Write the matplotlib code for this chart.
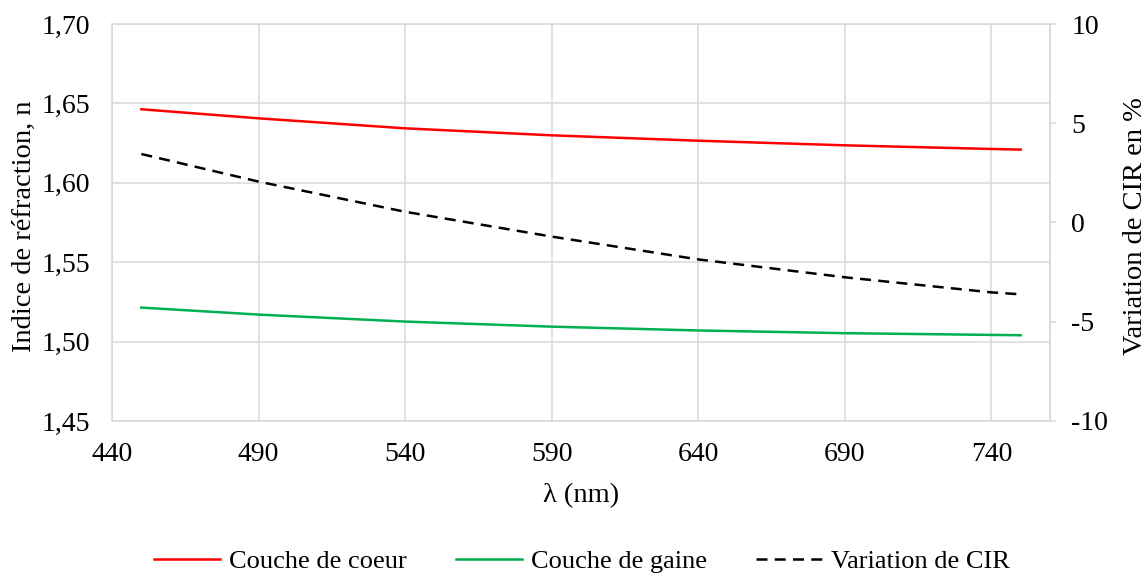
import matplotlib
matplotlib.use("Agg")
import matplotlib.pyplot as plt
from matplotlib.ticker import FuncFormatter

plt.rcParams['font.family'] = ['Liberation Serif', 'DejaVu Serif']

# wavelength (nm)
wavelength = [450, 490, 540, 590, 640, 690, 740, 750]
# refractive index of core and cladding layers
n_coeur = [1.6463, 1.6406, 1.6343, 1.6299, 1.6265, 1.6236, 1.6213, 1.6209]
n_gaine = [1.5214, 1.5170, 1.5126, 1.5094, 1.5070, 1.5053, 1.5042, 1.5040]
# variation of CIR in %
var_cir = [3.45, 2.06, 0.54, -0.71, -1.86, -2.76, -3.52, -3.62]

x_ticks = [440, 490, 540, 590, 640, 690, 740]
y_ticks = [1.45, 1.50, 1.55, 1.60, 1.65, 1.70]
y2_ticks = [-10, -5, 0, 5, 10]

grid_col = '#d9d9d9'
fs_tick = 20
fs_lab = 20.5
fs_leg = 19

fig = plt.figure(figsize=(11.48, 5.77), dpi=100)
ax = fig.add_axes([0.0976, 0.2704, 0.9146 - 0.0976, 0.9584 - 0.2704])
ax2 = ax.twinx()

l1, = ax.plot(wavelength, n_coeur, color='#ff0000', lw=1.8, label='Couche de coeur')
l2, = ax.plot(wavelength, n_gaine, color='#00b050', lw=1.8, label='Couche de gaine')
l3, = ax2.plot(wavelength, var_cir, color='black', lw=1.8, linestyle=(0, (4.4, 2.9)),
               label='Variation de CIR')

ax.set_xlim(440, 760)
ax.set_ylim(1.45, 1.70)
ax2.set_ylim(-10, 10)
ax.set_xticks(x_ticks)
ax.set_yticks(y_ticks)
ax2.set_yticks(y2_ticks)
ax.yaxis.set_major_formatter(FuncFormatter(lambda v, p: f"{v:.2f}".replace('.', ',')))
ax2.yaxis.set_major_formatter(FuncFormatter(lambda v, p: f"{int(round(v))}"))

ax.grid(True, color=grid_col, lw=1.1)
ax.set_axisbelow(True)
for a in (ax, ax2):
    for s in a.spines.values():
        s.set_color(grid_col)
        s.set_linewidth(1.1)
ax2.spines['left'].set_visible(False)
ax2.spines['top'].set_visible(False)
ax2.spines['bottom'].set_visible(False)

ax.tick_params(axis='both', length=0, labelsize=fs_tick)
ax.tick_params(axis='y', pad=16)
ax.tick_params(axis='x', pad=15)
ax2.tick_params(axis='y', length=4.5, width=1.1, color=grid_col, labelsize=fs_tick, pad=11)

ax.set_xlabel('λ (nm)', fontsize=fs_lab, labelpad=12)
ax.set_ylabel('Indice de réfraction, n', fontsize=fs_lab)
ax2.set_ylabel('Variation de CIR en %', fontsize=fs_lab)
ax.yaxis.set_label_coords(-0.080, 0.49)
ax2.yaxis.set_label_coords(1.078, 0.49)

fig.legend(handles=[l1, l2, l3], loc='center', bbox_to_anchor=(0.507, 0.027), ncol=3,
           frameon=False, fontsize=fs_leg, handlelength=2.5, columnspacing=1.85,
           handletextpad=0.35)

fig.savefig('out.png', dpi=100)
